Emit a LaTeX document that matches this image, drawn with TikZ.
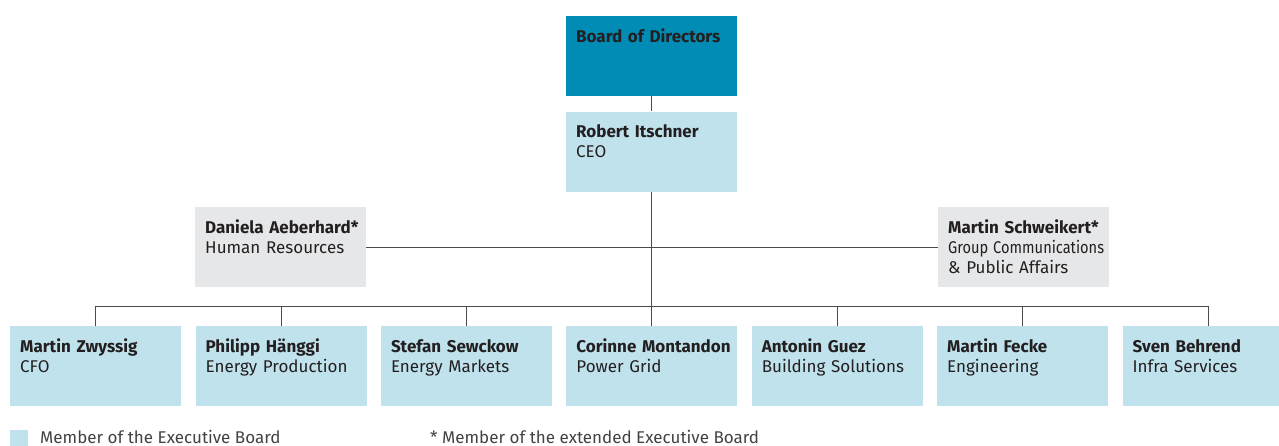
\documentclass[tikz,border=0pt]{standalone}
\usepackage{fontspec}
\setmainfont{Fira Sans}
\usepackage{xcolor}
\usepackage{graphicx}
\usetikzlibrary{positioning,calc}
\definecolor{boardteal}{HTML}{008CB4}
\definecolor{execblue}{HTML}{C0E2EC}
\definecolor{extgray}{HTML}{E6E7E8}
\definecolor{textdark}{HTML}{231F20}
\definecolor{linegray}{HTML}{4A4A4A}
\tikzset{
  pbox/.style={fill=execblue,anchor=north west,text width=151pt,align=left,
    inner xsep=10pt,inner ysep=10pt,text height=16pt,text depth=44pt,
    text=textdark,font=\fontsize{17}{20}\selectfont},
  boardbox/.style={pbox,fill=boardteal},
  extbox/.style={pbox,fill=extgray},
  link/.style={draw=linegray,line width=0.9pt},
  legend/.style={anchor=base west,inner sep=0pt,text=textdark!85,font=\fontsize{17}{20}\selectfont},
}
\newcommand{\person}[2]{\mbox{\textbf{#1}}\\\mbox{#2}}

\begin{document}
\begin{tikzpicture}[x=1pt,y=-1pt]
\useasboundingbox (0,0) rectangle (1279,445);
% top
\node[boardbox] (board) at (566,16) {\mbox{\textbf{Board of Directors}}};
\node[pbox, below=15pt of board] (ceo) {\person{Robert Itschner}{CEO}};
% staff functions
\node[extbox] (hr) at (195,207) {\person{Daniela Aeberhard*}{Human Resources}};
\node[extbox] (comm) at (938,207) {\person{Martin Schweikert*}{\scalebox{0.86}[1]{Group Communications}}\\\& Public Affairs};
% divisions
\node[pbox] (cfo) at (10,326) {\person{Martin Zwyssig}{CFO}};
\node[pbox, right=14pt of cfo] (prod) {\person{Philipp Hänggi}{Energy Production}};
\node[pbox, right=14pt of prod] (mark) {\person{Stefan Sewckow}{Energy Markets}};
\node[pbox, right=14pt of mark] (grid) {\person{Corinne Montandon}{Power Grid}};
\node[pbox, right=14pt of grid] (build) {\person{Antonin Guez}{Building Solutions}};
\node[pbox, right=14pt of build] (eng) {\person{Martin Fecke}{Engineering}};
\node[pbox, right=14pt of eng] (infra) {\person{Sven Behrend}{Infra Services}};
% connectors
\coordinate (bus) at ($(ceo.south)+(0,115)$);
\draw[link] (board) -- (ceo);
\draw[link] (ceo) -- (bus);
\draw[link] (hr) -- (comm);
\draw[link] (cfo.north) |- (bus) -| (infra.north);
\foreach \n in {prod,mark,grid,build,eng}
  \draw[link] (\n.north) -- (\n.north |- bus);
% legend
\node[fill=execblue,anchor=north west,minimum width=18pt,minimum height=16pt,inner sep=0pt] (key) at (10,430) {};
\node[legend] (keytext) at (40,443) {Member of the Executive Board};
\node[legend] (note) at (430,443) {* Member of the extended Executive Board};
\end{tikzpicture}
\end{document}
